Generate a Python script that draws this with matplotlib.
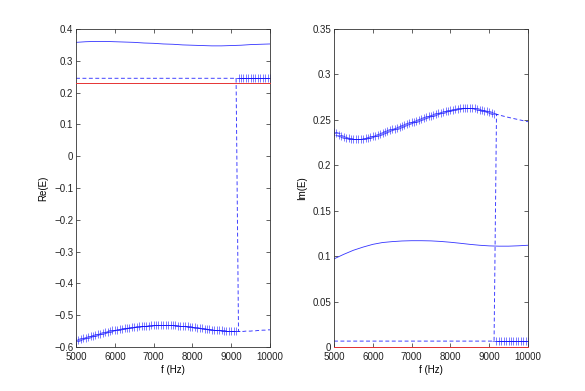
import numpy as np
import matplotlib
matplotlib.use("Agg")
import matplotlib.pyplot as plt
from matplotlib.ticker import FuncFormatter

plt.rcParams['font.family'] = ['Liberation Sans', 'DejaVu Sans']

# ---------------- data ----------------
# fine frequency grid (Hz) for marker/dashed branches
freq = np.linspace(5000, 10000, 81)
switch_idx = 67          # branch exchange near 9190 Hz

# coarse frequency grid (Hz) for solid curves
freq_c = np.arange(5000, 10001, 250)

# Left panel: Re(E)
re_curved = [
    -0.582, -0.579, -0.576, -0.573, -0.571, -0.568, -0.566, -0.564,
    -0.562, -0.560, -0.558, -0.556, -0.554, -0.552, -0.550, -0.548,
    -0.547, -0.545, -0.544, -0.543, -0.541, -0.540, -0.539, -0.538,
    -0.537, -0.536, -0.535, -0.535, -0.534, -0.533, -0.533, -0.532,
    -0.532, -0.532, -0.531, -0.531, -0.531, -0.531, -0.531, -0.532,
    -0.532, -0.532, -0.533, -0.533, -0.534, -0.535, -0.535, -0.536,
    -0.537, -0.538, -0.539, -0.540, -0.541, -0.542, -0.543, -0.544,
    -0.545, -0.546, -0.547, -0.547, -0.548, -0.549, -0.549, -0.550,
    -0.550, -0.551, -0.551, -0.551, -0.551, -0.551, -0.550, -0.550,
    -0.550, -0.549, -0.549, -0.548, -0.548, -0.547, -0.547, -0.546,
    -0.546,
]
re_flat = [0.245] * 81
re_solid = [0.358, 0.360, 0.361, 0.361, 0.360, 0.359, 0.358, 0.356,
            0.355, 0.353, 0.352, 0.350, 0.349, 0.348, 0.347, 0.347,
            0.348, 0.349, 0.351, 0.352, 0.353]
re_ref = 0.23

# Right panel: Im(E)
im_curved = [
    0.2365, 0.2352, 0.2338, 0.2325, 0.2313, 0.2303, 0.2295, 0.2289,
    0.2286, 0.2285, 0.2286, 0.2289, 0.2293, 0.2298, 0.2304, 0.2311,
    0.2318, 0.2326, 0.2335, 0.2344, 0.2354, 0.2365, 0.2375, 0.2385,
    0.2395, 0.2405, 0.2415, 0.2425, 0.2435, 0.2445, 0.2454, 0.2463,
    0.2472, 0.2481, 0.2490, 0.2500, 0.2510, 0.2520, 0.2530, 0.2539,
    0.2547, 0.2556, 0.2564, 0.2572, 0.2580, 0.2587, 0.2594, 0.2600,
    0.2608, 0.2614, 0.2620, 0.2625, 0.2629, 0.2631, 0.2632, 0.2632,
    0.2631, 0.2629, 0.2626, 0.2621, 0.2613, 0.2607, 0.2601, 0.2594,
    0.2586, 0.2578, 0.2570, 0.2561, 0.2554, 0.2547, 0.2540, 0.2533,
    0.2527, 0.2521, 0.2515, 0.2509, 0.2503, 0.2497, 0.2491, 0.2485,
    0.2480,
]
im_flat = [0.0065] * 81
im_solid = [0.097, 0.102, 0.1065, 0.110, 0.113, 0.115, 0.116, 0.1167,
            0.117, 0.117, 0.1168, 0.1162, 0.1153, 0.1142, 0.1130, 0.1120,
            0.1113, 0.1110, 0.1110, 0.1114, 0.1120]
im_ref = 0.0

re_yticks = [-0.6, -0.5, -0.4, -0.3, -0.2, -0.1, 0, 0.1, 0.2, 0.3, 0.4]
im_yticks = [0, 0.05, 0.1, 0.15, 0.2, 0.25, 0.3, 0.35]
xticks = [5000, 6000, 7000, 8000, 9000, 10000]

# ---------------- plot ----------------
fig = plt.figure(figsize=(5.85, 3.91), dpi=100)
ax1 = fig.add_axes([0.13, 0.1125, 0.3316, 0.8133])
ax2 = fig.add_axes([0.571, 0.1125, 0.3316, 0.8133])

blue = (0.0, 0.0, 1.0)
red = (0.9, 0.2, 0.2)
dash = (0, (4.0, 2.6))

def fmt(v, pos):
    s = '%g' % round(v, 4)
    return s.replace('-', '\u2212')

def draw(ax, curved, flat, solid, ref, ylim, yticks, ylabel):
    curved = np.asarray(curved)
    flat = np.asarray(flat)
    plus_y = np.where(np.arange(len(freq)) < switch_idx, curved, flat)
    dash_y = np.where(np.arange(len(freq)) < switch_idx, flat, curved)
    ax.plot(freq_c, solid, color=blue, lw=0.6, alpha=0.8)
    ax.plot(freq, dash_y, color=blue, lw=0.7, ls=dash, alpha=0.75)
    ax.plot(freq, plus_y, ls='none', marker='+', ms=5.2, mew=0.6,
            color=blue, alpha=0.6)
    ax.axhline(ref, color=red, lw=0.7, zorder=5, clip_on=False)
    ax.set_xlim(5000, 10000)
    ax.set_ylim(*ylim)
    ax.set_xticks(xticks)
    ax.set_yticks(yticks)
    ax.xaxis.set_major_formatter(FuncFormatter(fmt))
    ax.yaxis.set_major_formatter(FuncFormatter(fmt))
    ax.tick_params(direction='in', length=3, width=0.5, top=True, right=True,
                   labelsize=7, colors='#222222')
    ax.tick_params(axis='x', pad=3.5)
    ax.tick_params(axis='y', pad=2)
    for sp in ax.spines.values():
        sp.set_linewidth(0.6)
        sp.set_color('#333333')
    ax.set_xlabel('f (Hz)', fontsize=7, labelpad=2)
    ax.set_ylabel(ylabel, fontsize=7, labelpad=4)

draw(ax1, re_curved, re_flat, re_solid, re_ref, (-0.6, 0.4), re_yticks, 'Re(E)')
draw(ax2, im_curved, im_flat, im_solid, im_ref, (0, 0.35), im_yticks, 'Im(E)')

fig.savefig('out.png', dpi=100)
